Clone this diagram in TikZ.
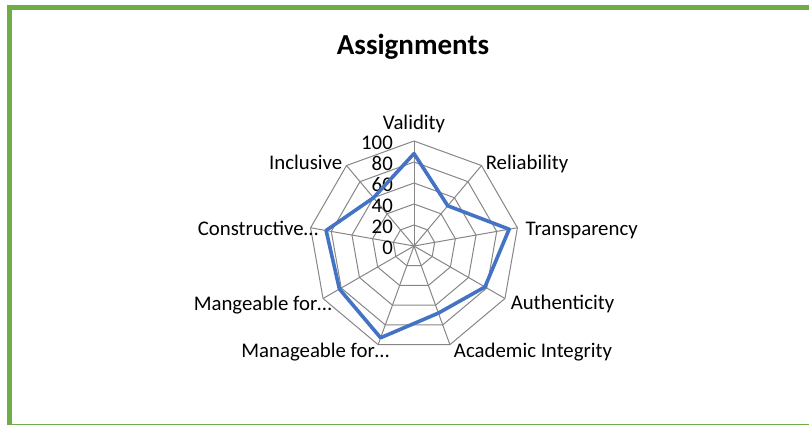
\documentclass[tikz,border=0pt]{standalone}
\usepackage{fontspec}
\setmainfont{Carlito}
\definecolor{framegreen}{RGB}{112,173,71}
\definecolor{webgray}{RGB}{134,134,134}
\definecolor{seriesblue}{RGB}{68,114,196}
\tikzset{
  webline/.style={draw=webgray, line width=1pt, line join=round},
  series/.style={draw=seriesblue, line width=3.6pt, line join=round},
  axislabel/.style={anchor=base, inner sep=0pt, font=\fontsize{20.8}{25}\selectfont},
  ticklabel/.style={anchor=east, inner sep=0pt, font=\fontsize{20.8}{25}\selectfont},
}
\begin{document}
\begin{tikzpicture}[x=1pt,y=1pt]
        \useasboundingbox (0,0) rectangle (809,426);
        % frame
        \draw[framegreen, line width=5pt] (7,418.5) -- (809,418.5);
        \draw[framegreen, line width=5pt] (9.5,421) -- (9.5,0.75);
        \draw[framegreen, line width=1.5pt] (7,1.5) -- (809,1.5);

        \node[anchor=base, inner sep=0pt, font=\fontsize{29}{34}\selectfont\bfseries] (title) at (413,371) {Assignments};

        \begin{scope}[shift={(414,180)}]
        % web
        \foreach \r in {1,...,5}
          \draw[webline] (90:\r*21) \foreach \k in {1,...,8} {-- (90-40*\k:\r*21)} -- cycle;
        \foreach \k in {0,...,8}
          \draw[webline] (0,0) -- (90-40*\k:105);

        % scale
        \foreach \t [count=\i from 0] in {0,20,...,100}
          \node[ticklabel] (tick\i) at (-21,\t*1.05-1.7) {\t};

        % series
        \foreach \v [count=\k from 0] in {88,50,92,78,68,93,82,85,60}
          \coordinate (p\k) at (90-40*\k:\v*1.05);
        \draw[series] (p0) -- (p1) -- (p2) -- (p3) -- (p4) -- (p5) -- (p6) -- (p7) -- (p8) -- cycle;
        \end{scope}

        % axis labels
        \node[axislabel] (validity) at (414,296) {Validity};
        \node[axislabel] (reliability) at (527,256) {Reliability};
        \node[axislabel] (transparency) at (581.7,190) {Transparency};
        \node[axislabel] (authenticity) at (562.5,116) {Authenticity};
        \node[axislabel] (integrity) at (533,68.5) {Academic Integrity};
        \node[axislabel] (manageable) at (315.3,68) {Manageable for…};
        \node[axislabel] (mangeable) at (262.7,115.5) {Mangeable for…};
        \node[axislabel] (constructive) at (258,190.5) {Constructive…};
        \node[axislabel] (inclusive) at (305.7,256) {Inclusive};
\end{tikzpicture}
\end{document}
